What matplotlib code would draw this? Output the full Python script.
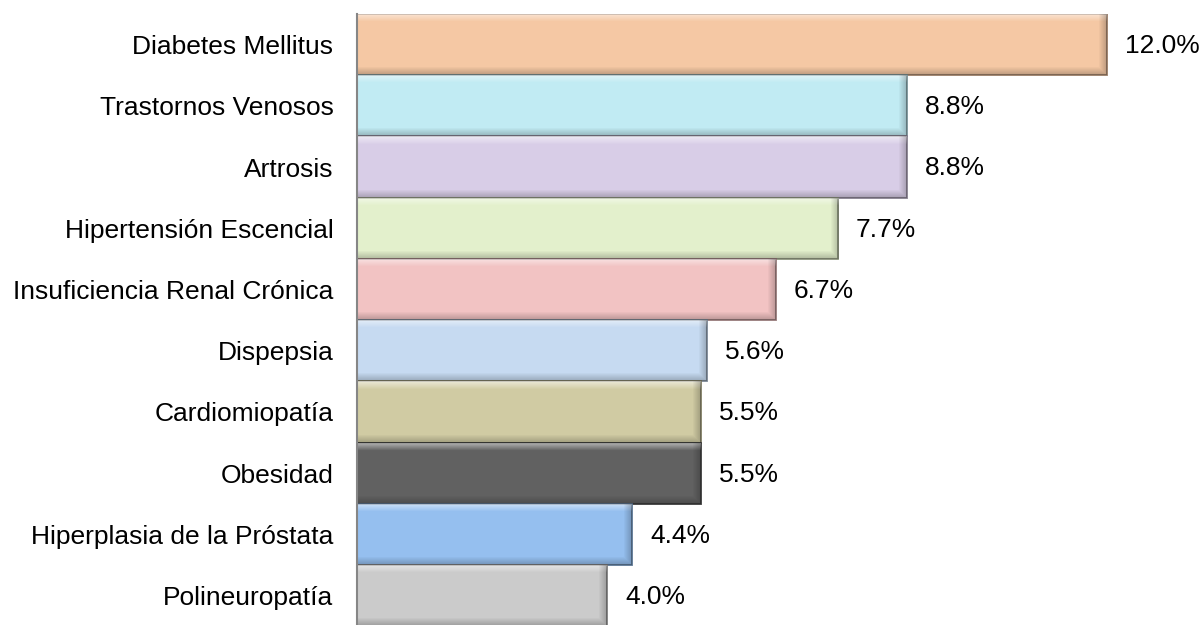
import numpy as np
import matplotlib.pyplot as plt
import matplotlib.colors as mcolors

plt.rcParams['font.family'] = ['Liberation Sans', 'DejaVu Sans']

# Data (top to bottom as in the chart)
categories = ["Diabetes Mellitus", "Trastornos Venosos", "Artrosis",
              "Hipertensión Escencial", "Insuficiencia Renal Crónica",
              "Dispepsia", "Cardiomiopatía", "Obesidad",
              "Hiperplasia de la Próstata", "Polineuropatía"]
values = [12.0, 8.8, 8.8, 7.7, 6.7, 5.6, 5.5, 5.5, 4.4, 4.0]
bar_colors = ["#F5C8A4", "#C1EBF3", "#D8CDE7", "#E3F0CC", "#F2C3C3",
              "#C6DAF1", "#D0CBA3", "#616161", "#95BFEF", "#CBCBCB"]


def darker(c, f=0.62):
    r, g, b = mcolors.to_rgb(c)
    return (r * f, g * f, b * f)


def bevel(ax, bar, bevel_px=8):
    # soft bevel overlay: light top, darker bottom and right edge
    x0, y0 = bar.get_x(), bar.get_y()
    w, h = bar.get_width(), bar.get_height()
    p0 = ax.transData.transform((x0, y0))
    p1 = ax.transData.transform((x0 + w, y0 + h))
    wpx, hpx = abs(p1[0] - p0[0]), abs(p1[1] - p0[1])
    nx, ny = max(int(wpx), 2), max(int(hpx), 2)
    img = np.zeros((ny, nx, 4))
    yy = np.arange(ny)[:, None]
    xx = np.arange(nx)[None, :]
    top = np.clip(1 - yy / bevel_px, 0, 1)
    bot = np.clip(1 - (ny - 1 - yy) / bevel_px, 0, 1)
    right = np.clip(1 - (nx - 1 - xx) / bevel_px, 0, 1)
    light = 0.55 * top * np.ones_like(xx)
    dark = np.maximum(0.22 * bot * np.ones_like(xx), 0.22 * right * np.ones_like(yy))
    img[..., :3] = 1.0
    img[..., 3] = light
    dimg = np.zeros((ny, nx, 4))
    dimg[..., 3] = dark
    for im in (img, dimg):
        art = ax.imshow(im, extent=(x0, x0 + w, y0, y0 + h), origin="upper",
                        aspect="auto", interpolation="bilinear", zorder=2.5)
        art.set_clip_path(bar)


fig = plt.figure(figsize=(12.04, 6.25), dpi=100)
ax = fig.add_axes([357 / 1204, 0.0, 1 - 357 / 1204 - 0.003, 1 - 14 / 625])

n = len(categories)
ypos = list(range(n - 1, -1, -1))

ax.set_xlim(0, 13.5)
ax.set_ylim(-0.48, n - 0.5)

for y, v, c in zip(ypos, values, bar_colors):
    bars = ax.barh(y, v, height=1.0, color=c, edgecolor=darker(c), linewidth=1.3, zorder=2)
    bevel(ax, bars[0])
    ax.annotate(f"{v:.1f}%", xy=(v, y), xytext=(13, -1), textcoords="offset points",
                va="center", ha="left", fontsize=19, color="#000000")

ax.set_yticks(ypos)
ax.set_yticklabels(categories, fontsize=19)
ax.tick_params(axis="y", length=0, pad=17)
ax.set_xticks([])
ax.set_xlim(0, 13.5)
ax.set_ylim(-0.48, n - 0.5)

for s in ["top", "right", "bottom"]:
    ax.spines[s].set_visible(False)
ax.spines["left"].set_color("#868686")
ax.spines["left"].set_linewidth(1.5)

fig.savefig("out.png", dpi=100)
